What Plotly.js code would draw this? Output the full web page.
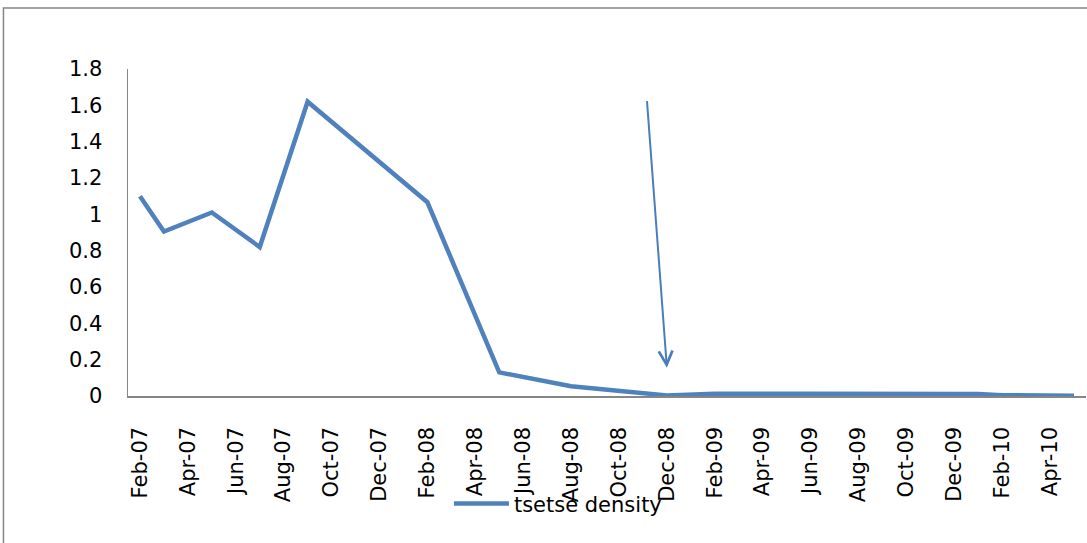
<!DOCTYPE html>
<html>
<head>
<meta charset="utf-8">
<script src="https://cdn.plot.ly/plotly-3.0.1.min.js"></script>
<style>
html,body{margin:0;padding:0;background:#fff;}
#chart{width:1087px;height:543px;}
</style>
</head>
<body>
<div id="chart"></div>
<script>
// All months on the (date-like) category axis
const allMonths = [
  'Feb-07','Mar-07','Apr-07','May-07','Jun-07','Jul-07','Aug-07','Sep-07','Oct-07','Nov-07','Dec-07','Jan-08',
  'Feb-08','Mar-08','Apr-08','May-08','Jun-08','Jul-08','Aug-08','Sep-08','Oct-08','Nov-08','Dec-08','Jan-09',
  'Feb-09','Mar-09','Apr-09','May-09','Jun-09','Jul-09','Aug-09','Sep-09','Oct-09','Nov-09','Dec-09','Jan-10',
  'Feb-10','Mar-10','Apr-10','May-10'
];
// Tick labels (every second month)
const tickLabels = ['Feb-07','Apr-07','Jun-07','Aug-07','Oct-07','Dec-07','Feb-08','Apr-08','Jun-08','Aug-08',
  'Oct-08','Dec-08','Feb-09','Apr-09','Jun-09','Aug-09','Oct-09','Dec-09','Feb-10','Apr-10'];
// Survey months and tsetse density values
const surveyMonths = ['Feb-07','Mar-07','May-07','Jul-07','Sep-07','Feb-08','May-08','Aug-08','Dec-08',
  'Feb-09','Jun-09','Oct-09','Jan-10','Feb-10','May-10'];
const density = [1.10,0.905,1.01,0.82,1.62,1.067,0.13,0.054,0.003,
  0.012,0.012,0.011,0.011,0.004,0.002];
const yTicks = [0,0.2,0.4,0.6,0.8,1,1.2,1.4,1.6,1.8];
const yTickText = ['0','0.2','0.4','0.6','0.8','1','1.2','1.4','1.6','1.8'];
// Arrow target (intervention point)
const arrowMonth = 'Dec-08';
const arrowValue = 0.156;

const font = {family:'DejaVu Sans', size:21, color:'#000'};

const trace = {
  x: surveyMonths, y: density, type:'scatter', mode:'lines',
  name:'tsetse density',
  line:{color:'#4f81bd', width:4.5},
  connectgaps:true
};

const layout = {
  width:1087, height:543,
  margin:{l:128, r:1, t:69, b:147},
  paper_bgcolor:'#fff', plot_bgcolor:'#fff',
  font: font,
  showlegend:true,
  legend:{x:0.335, xanchor:'left', y:-0.33, yanchor:'middle', orientation:'h',
    bgcolor:'rgba(0,0,0,0)', font:font, itemwidth:55},
  xaxis:{
    type:'category', categoryorder:'array', categoryarray: allMonths,
    range:[-0.5, allMonths.length-0.5],
    tickmode:'array', tickvals: tickLabels, ticktext: tickLabels,
    tickangle:-90, ticks:'', showgrid:false, zeroline:false,
    showline:true, linecolor:'#868686', linewidth:1.5,
    ticklabelstandoff:21, tickfont:font, fixedrange:true
  },
  yaxis:{
    range:[0,1.8], tickmode:'array', tickvals:yTicks, ticktext:yTickText,
    ticks:'', showgrid:false, zeroline:false,
    showline:true, linecolor:'#868686', linewidth:1.5,
    ticklabelstandoff:20, tickfont:font, fixedrange:true
  },
  annotations:[{
    x: arrowMonth, y: arrowValue, xref:'x', yref:'y',
    ax:-20, ay:-268, axref:'pixel', ayref:'pixel',
    showarrow:true, arrowhead:5, arrowsize:1.35, arrowwidth:2,
    arrowcolor:'#4a7ebb', text:'', standoff:0
  }],
  shapes:[{
    type:'rect', xref:'paper', yref:'paper',
    x0:-0.1300, x1:1.01, y0:-0.47, y1:1.1865,
    line:{color:'#868686', width:1.5}, fillcolor:'rgba(0,0,0,0)', layer:'below'
  }]
};

Plotly.newPlot('chart',[trace],layout,{displayModeBar:false, staticPlot:true});
</script>
</body>
</html>
